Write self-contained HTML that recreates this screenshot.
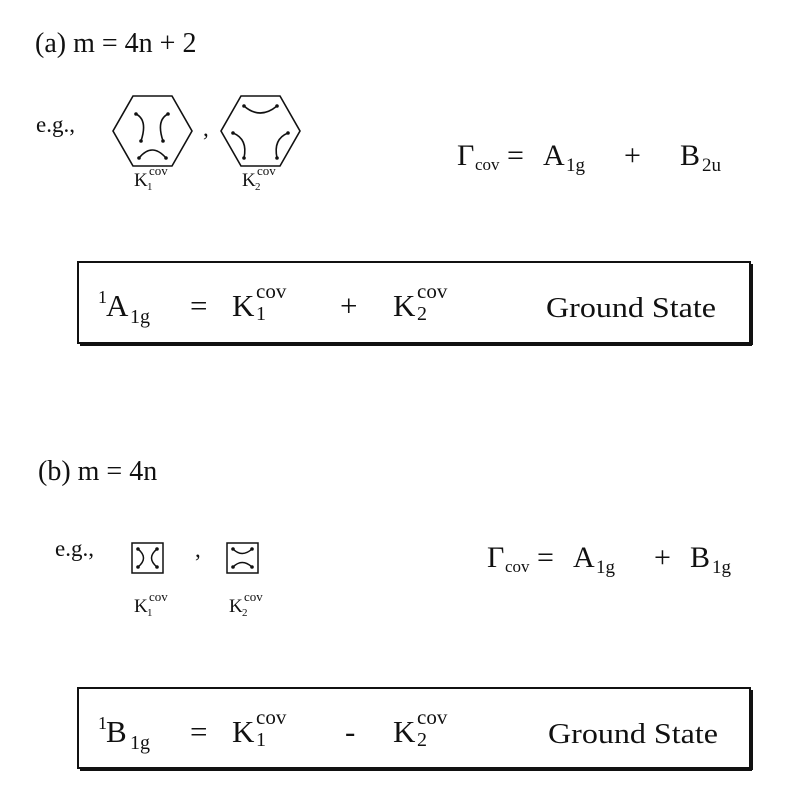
<!DOCTYPE html>
<html><head><meta charset="utf-8"><style>
html,body{margin:0;padding:0;background:#fff;}
svg{display:block;}
text{font-family:"Liberation Serif",serif;fill:#111;}
</style></head><body>
<svg width="790" height="796" viewBox="0 0 790 796" xmlns="http://www.w3.org/2000/svg">
<text x="35" y="52" font-size="28">(a) m = 4n + 2</text>
<text x="36" y="132" font-size="23">e.g.,</text>
<g fill="none" stroke="#111" stroke-width="1.6">
<polygon points="133,96 172,96 192,131 172,166 133,166 113,131"/>
<path d="M136,114 Q148,120 141,141"/><path d="M168,114 Q156,120 163,141"/><path d="M139,158 Q152,142 166,158"/>
<polygon points="241,96 280,96 300,131 280,166 241,166 221,131"/>
<path d="M244,106 Q260,120 277,106"/><path d="M233,133 Q248,139 244,158"/><path d="M288,133 Q273,139 277,158"/>
</g>
<g fill="#111"><circle cx="136" cy="114" r="1.8"/><circle cx="141" cy="141" r="1.8"/><circle cx="168" cy="114" r="1.8"/><circle cx="163" cy="141" r="1.8"/><circle cx="139" cy="158" r="1.8"/><circle cx="166" cy="158" r="1.8"/>
<circle cx="244" cy="106" r="1.8"/><circle cx="277" cy="106" r="1.8"/><circle cx="233" cy="133" r="1.8"/><circle cx="244" cy="158" r="1.8"/><circle cx="288" cy="133" r="1.8"/><circle cx="277" cy="158" r="1.8"/></g>
<text x="203" y="136" font-size="23">,</text>
<text x="134" y="186" font-size="19">K</text><text x="147" y="190" font-size="11">1</text><text x="149" y="175" font-size="13">cov</text>
<text x="242" y="186" font-size="19">K</text><text x="255" y="190" font-size="11">2</text><text x="257" y="175" font-size="13">cov</text>
<text x="457" y="165" font-size="30">Γ</text><text x="475" y="170" font-size="17">cov</text>
<text x="507" y="165" font-size="30">=</text><text x="543" y="165" font-size="30">A</text><text x="566" y="171" font-size="19">1g</text>
<text x="624" y="165" font-size="30">+</text><text x="680" y="165" font-size="30">B</text><text x="702" y="171" font-size="19">2u</text>
<rect x="78" y="262" width="672" height="81" fill="none" stroke="#111" stroke-width="2"/>
<line x1="80" y1="345" x2="752" y2="345" stroke="#111" stroke-width="2"/><line x1="752" y1="264" x2="752" y2="345" stroke="#111" stroke-width="2"/>
<text x="98" y="303" font-size="18">1</text><text x="106" y="316" font-size="31">A</text><text x="130" y="323" font-size="20">1g</text>
<text x="190" y="316" font-size="31">=</text>
<text x="232" y="316" font-size="31">K</text><text x="256" y="320" font-size="20">1</text><text x="256" y="298" font-size="21">cov</text>
<text x="340" y="316" font-size="31">+</text>
<text x="393" y="316" font-size="31">K</text><text x="417" y="320" font-size="20">2</text><text x="417" y="298" font-size="21">cov</text>
<text x="546" y="317" font-size="28" textLength="170" lengthAdjust="spacingAndGlyphs">Ground State</text>
<text x="38" y="480" font-size="28">(b) m = 4n</text>
<text x="55" y="556" font-size="23">e.g.,</text>
<g fill="none" stroke="#111" stroke-width="1.5">
<rect x="132" y="543" width="31" height="30"/>
<path d="M138,549 Q149,558 138,567"/><path d="M157,549 Q146,558 157,567"/>
<rect x="227" y="543" width="31" height="30"/>
<path d="M233,549 Q242,558 252,549"/><path d="M233,567 Q242,558 252,567"/>
</g>
<g fill="#111"><circle cx="138" cy="549" r="1.8"/><circle cx="138" cy="567" r="1.8"/><circle cx="157" cy="549" r="1.8"/><circle cx="157" cy="567" r="1.8"/>
<circle cx="233" cy="549" r="1.8"/><circle cx="252" cy="549" r="1.8"/><circle cx="233" cy="567" r="1.8"/><circle cx="252" cy="567" r="1.8"/></g>
<text x="195" y="557" font-size="23">,</text>
<text x="134" y="612" font-size="19">K</text><text x="147" y="616" font-size="11">1</text><text x="149" y="601" font-size="13">cov</text>
<text x="229" y="612" font-size="19">K</text><text x="242" y="616" font-size="11">2</text><text x="244" y="601" font-size="13">cov</text>
<text x="487" y="567" font-size="30">Γ</text><text x="505" y="572" font-size="17">cov</text>
<text x="537" y="567" font-size="30">=</text><text x="573" y="567" font-size="30">A</text><text x="596" y="573" font-size="19">1g</text>
<text x="654" y="567" font-size="30">+</text><text x="690" y="567" font-size="30">B</text><text x="712" y="573" font-size="19">1g</text>
<rect x="78" y="688" width="672" height="80" fill="none" stroke="#111" stroke-width="2"/>
<line x1="80" y1="770" x2="752" y2="770" stroke="#111" stroke-width="2"/><line x1="752" y1="690" x2="752" y2="770" stroke="#111" stroke-width="2"/>
<text x="98" y="729" font-size="18">1</text><text x="106" y="742" font-size="31">B</text><text x="130" y="749" font-size="20">1g</text>
<text x="190" y="742" font-size="31">=</text>
<text x="232" y="742" font-size="31">K</text><text x="256" y="746" font-size="20">1</text><text x="256" y="724" font-size="21">cov</text>
<text x="345" y="742" font-size="31">-</text>
<text x="393" y="742" font-size="31">K</text><text x="417" y="746" font-size="20">2</text><text x="417" y="724" font-size="21">cov</text>
<text x="548" y="743" font-size="28" textLength="170" lengthAdjust="spacingAndGlyphs">Ground State</text>
</svg>
</body></html>
